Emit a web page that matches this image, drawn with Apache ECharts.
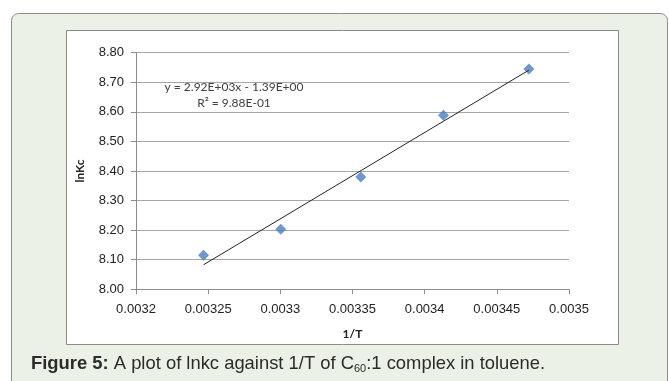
<!DOCTYPE html>
<html>
<head>
<meta charset="utf-8">
<script src="https://cdn.jsdelivr.net/npm/echarts@6/dist/echarts.min.js"></script>
<style>
  html, body { margin: 0; padding: 0; background: #fff; }
  #chart { width: 669px; height: 381px; }
</style>
</head>
<body>
<div id="chart"></div>
<script>
// 1/T values and lnKc
const invT = [0.0032468, 0.0033003, 0.0033557, 0.0034130, 0.0034722];
const lnKc = [8.115, 8.203, 8.380, 8.5885, 8.745];
// linear trendline end points (Excel fit)
const trendX = [0.0032468, 0.0034722];
const trendY = [8.083, 8.741];
const eqText = 'y = 2.92E+03x - 1.39E+00';
const r2Text = 'R\u00b2 = 9.88E-01';

const myChart = echarts.init(document.getElementById('chart'));

let points = invT.map((x, i) => [x, lnKc[i]]);
let trend = trendX.map((x, i) => [x, trendY[i]]);

let option = {
  animation: false,
  backgroundColor: '#fff',
  grid: { left: 136, right: 100, top: 52.7, bottom: 91.7 },
  xAxis: {
    type: 'value',
    min: 0.0032,
    max: 0.0035,
    interval: 0.00005,
    name: '1/T',
    nameLocation: 'middle',
    nameGap: 39,
    nameTextStyle: { fontFamily: 'Lato', fontWeight: 'bold', fontSize: 12, color: '#222' },
    axisLine: { show: true, lineStyle: { color: '#8c8c8c', width: 1 } },
    axisTick: { show: true, inside: false, length: 5, lineStyle: { color: '#8c8c8c' } },
    splitLine: { show: false },
    axisLabel: {
      margin: 14,
      fontFamily: 'Liberation Sans',
      fontSize: 13,
      color: '#222',
      formatter: v => String(Number(v.toFixed(5)))
    }
  },
  yAxis: {
    type: 'value',
    min: 8,
    max: 8.8,
    interval: 0.1,
    name: 'lnKc',
    nameLocation: 'middle',
    nameGap: 50,
    nameTextStyle: { fontFamily: 'Lato', fontWeight: 'bold', fontSize: 12, color: '#222' },
    axisLine: { show: true, lineStyle: { color: '#8c8c8c', width: 1 } },
    axisTick: { show: true, inside: false, length: 5, lineStyle: { color: '#8c8c8c' } },
    splitLine: { show: true, lineStyle: { color: '#a6a6a6', width: 1 } },
    axisLabel: {
      margin: 12,
      fontFamily: 'Liberation Sans',
      fontSize: 13,
      color: '#222',
      formatter: v => v.toFixed(2)
    }
  },
  series: [
    {
      name: 'lnKc',
      type: 'scatter',
      symbol: 'diamond',
      symbolSize: 11,
      itemStyle: { color: '#4a7ebb' },
      data: points,
      z: 3
    },
    {
      name: 'trend',
      type: 'line',
      showSymbol: false,
      lineStyle: { color: '#222', width: 1 },
      data: trend,
      z: 4
    }
  ],
  graphic: [
    // outer light green panel
    {
      type: 'rect', z: -100, silent: true,
      shape: { x: 11.5, y: 13.5, width: 656, height: 420, r: [7, 7, 0, 0] },
      style: { fill: '#ecf1e7', stroke: '#8c8c8c', lineWidth: 1 }
    },
    // chart box
    {
      type: 'rect', z: -90, silent: true,
      shape: { x: 66.5, y: 30.5, width: 552, height: 314 },
      style: { fill: '#fff', stroke: '#8a8a8a', lineWidth: 1 }
    },
    {
      type: 'text', x: 234, y: 87, z: 10,
      style: { text: eqText, fontFamily: 'Lato', fontSize: 12, fill: '#404040', textAlign: 'center', textVerticalAlign: 'middle' }
    },
    {
      type: 'text', x: 234, y: 103, z: 10,
      style: { text: r2Text, fontFamily: 'Lato', fontSize: 12, fill: '#404040', textAlign: 'center', textVerticalAlign: 'middle' }
    },
    {
      type: 'text', x: 31, y: 364, z: 10,
      style: {
        text: '{b|Figure 5:} A plot of lnkc against 1/T of C{s|60}:1 complex in toluene.',
        fontFamily: 'Liberation Sans', fontSize: 18.4, fill: '#2b2b2b',
        textVerticalAlign: 'middle',
        rich: {
          b: { fontWeight: 'bold', fontFamily: 'Liberation Sans', fontSize: 18.4, fill: '#2b2b2b' },
          s: { fontFamily: 'Liberation Sans', fontSize: 11, fill: '#2b2b2b', padding: [9, 0, 0, 0] }
        }
      }
    }
  ]
};

myChart.setOption(option);
</script>
</body>
</html>
